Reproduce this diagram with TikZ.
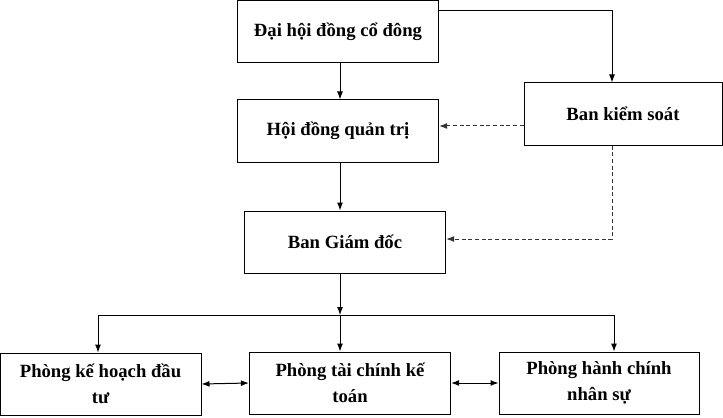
\documentclass[tikz,border=0pt]{standalone}
\usepackage{fontspec}
\setmainfont{Liberation Serif}
\usetikzlibrary{arrows.meta}

\begin{document}
\begin{tikzpicture}[x=0.75pt,y=0.75pt,yscale=-1,xscale=1,
    box/.style={draw, line width=0.75pt, minimum width=151pt, minimum height=46.5pt, inner sep=0.75pt, align=center, font=\fontsize{14}{19.5}\selectfont\bfseries},
    arr/.style={line width=0.75pt, -{Latex[length=6pt,width=4.5pt]}},
    darr/.style={line width=0.75pt, {Latex[length=6pt,width=4.5pt]}-{Latex[length=6pt,width=4.5pt]}},
    dasharr/.style={arr, color=black!80, dash pattern=on 3pt off 2pt}]
    \useasboundingbox (0,0) rectangle (723,417);

    % Boxes
    \node [box] (dh) at (338,31.5) {Đại hội đồng cổ đông};
    \node [box] (hd) at (338,131) {Hội đồng quản trị};
    \node [box, minimum width=148.5pt] (bks) at (623,114) {Ban kiểm soát};
    \node [box] (bgd) at (345,242) {Ban Giám đốc};
    \node [box, minimum width=150.75pt] (pkh) at (100.5,384) {Phòng kế hoạch đầu\\tư};
    \node [box] (ptc) at (350,383) {Phòng tài chính kế\\toán};
    \node [box, minimum width=150pt] (phc) at (599,383) {Phòng hành chính\\nhân sự};

    % Coordinates
    \coordinate (top) at (612,11);
    \coordinate (bus) at (340,315);
    \coordinate (busl) at (98,315);
    \coordinate (busr) at (614,315);
    \coordinate (ksd) at (612,239);

    %Straight Lines
    \draw [arr] (dh.south -| bus) -- (hd.north -| bus);
    \draw [arr] (hd.south -| bus) -- (bgd.north -| bus);
    \draw [arr] (bgd.south -| bus) -- (bus);
    \draw [line width=0.75pt] (busl) -- (busr);
    \draw [arr] (busl) -- (pkh.north -| busl);
    \draw [arr] (bus) -- (ptc.north -| bus);
    \draw [arr] (busr) -- (phc.north -| busr);
    \draw [arr] (dh.east |- top) -- (top) -- (bks.north -| top);
    \draw [darr] (pkh.east) -- (ptc.west);
    \draw [darr] (ptc.east) -- (phc.west);

    %Dashed Lines
    \draw [dasharr] (bks.west |- 0,126) -- (hd.east |- 0,126);
    \draw [dasharr] (bks.south -| ksd) -- (ksd) -- (bgd.east |- ksd);

\end{tikzpicture}
\end{document}
